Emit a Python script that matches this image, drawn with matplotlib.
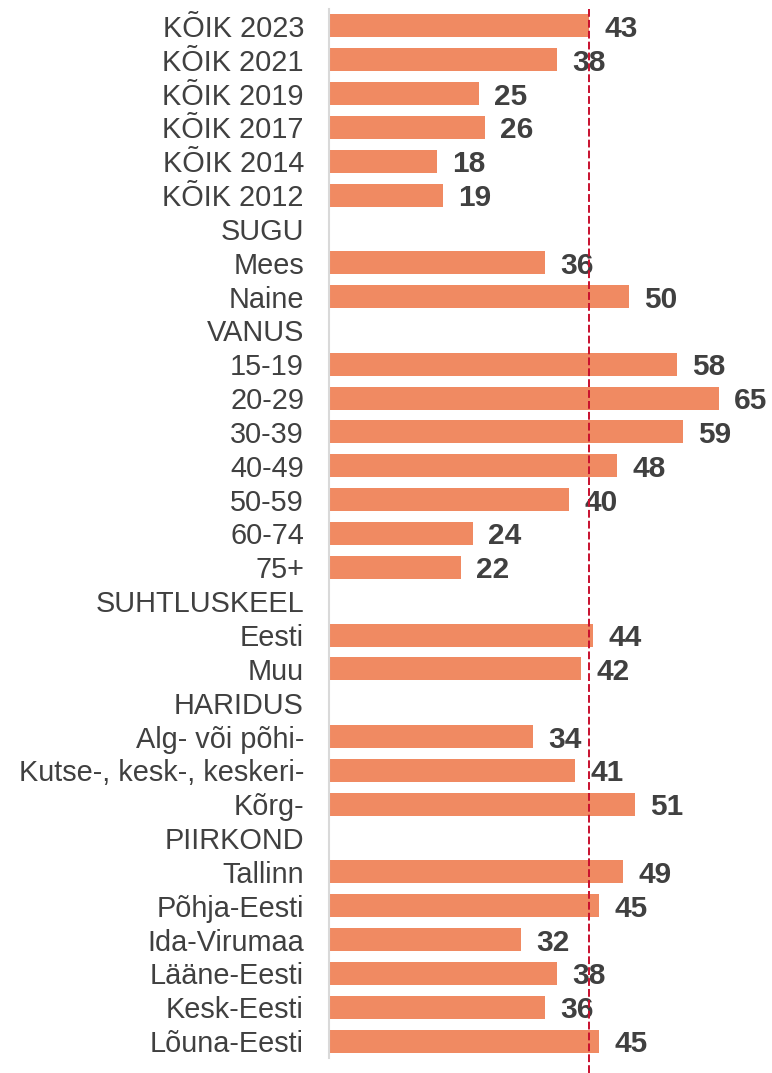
import matplotlib
matplotlib.use("Agg")
import matplotlib.pyplot as plt
import numpy as np

categories = ["KÕIK 2023", "KÕIK 2021", "KÕIK 2019", "KÕIK 2017", "KÕIK 2014", "KÕIK 2012",
              "SUGU", "Mees", "Naine",
              "VANUS", "15-19", "20-29", "30-39", "40-49", "50-59", "60-74", "75+",
              "SUHTLUSKEEL", "Eesti", "Muu",
              "HARIDUS", "Alg- või põhi-", "Kutse-, kesk-, keskeri-", "Kõrg-",
              "PIIRKOND", "Tallinn", "Põhja-Eesti", "Ida-Virumaa", "Lääne-Eesti", "Kesk-Eesti", "Lõuna-Eesti"]
values = [43.4, 38, 25, 26, 18, 19,
          None, 36, 50,
          None, 58, 65, 59, 48, 40, 24, 22,
          None, 44, 42,
          None, 34, 41, 51,
          None, 49, 45, 32, 38, 36, 45]
reference_value = 43.4

plt.rcParams['font.family'] = ['Liberation Sans', 'DejaVu Sans']

fig = plt.figure(figsize=(7.72, 10.73), dpi=100)
ax = fig.add_axes([329/772, 15/1073, (761-329)/772, (1058-9)/1073])

bar_color = "#F08A62"
text_color = "#404040"
y = np.arange(len(categories))
vals = np.array([np.nan if v is None else v for v in values], dtype=float)

ax.barh(y, np.nan_to_num(vals), height=0.68, color=bar_color, edgecolor="none")
for yi, v in zip(y, vals):
    if not np.isnan(v):
        ax.annotate(f"{v:.0f}", xy=(v, yi), xytext=(11, 0), textcoords="offset points",
                    ha="left", va="center_baseline", fontsize=21.5, fontweight="bold",
                    color=text_color)

ax.set_ylim(len(categories) - 0.5, -0.5)
ax.set_xlim(0, 72)
ax.set_yticks(y)
ax.set_yticklabels(categories, fontsize=20.8, color=text_color)
ax.tick_params(axis="y", length=0, pad=18)
ax.set_xticks([])
for s in ["top", "right", "bottom"]:
    ax.spines[s].set_visible(False)
ax.spines["left"].set_color("#D9D9D9")
ax.spines["left"].set_linewidth(1.5)

ax.plot([reference_value, reference_value], [-0.5, len(categories) - 0.5 + 0.45],
        color="#C8102E", linestyle=(0, (4, 1.6)), linewidth=1.4, clip_on=False, zorder=3)

fig.savefig("out.png", dpi=100)
